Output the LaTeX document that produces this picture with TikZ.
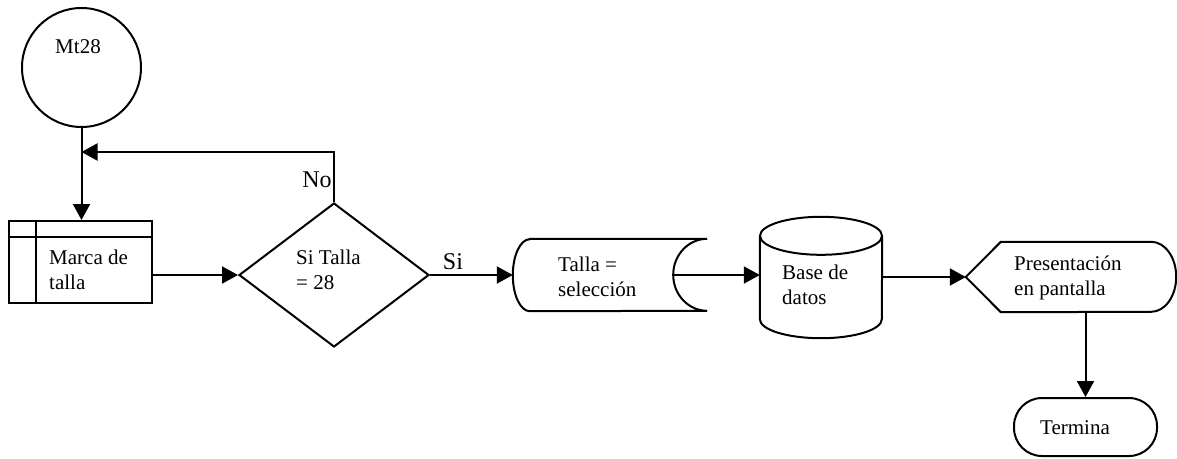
\documentclass[tikz,border=0pt]{standalone}
\usepackage{fontspec}
\setmainfont{Liberation Serif}
\usetikzlibrary{arrows.meta,shapes.geometric}

\tikzset{
  flow/.style={draw, line width=2pt},
  txt/.style={font=\fontsize{21}{24.5}\selectfont, align=left, inner sep=0pt},
  bigtxt/.style={font=\fontsize{24}{28}\selectfont, inner sep=0pt},
  arrow/.style={line width=2pt, -{Triangle[length=16pt,width=17pt]}},
}

\begin{document}
\begin{tikzpicture}[x=1pt, y=-1pt]
\useasboundingbox (0,0) rectangle (1177,458);

% Start connector
\node[flow, circle, minimum size=119pt, inner sep=0pt] (mt) at (81.5,67.5) {};
\node[txt] (mttxt) at (78,47) {Mt28};

% Predefined process
\node[flow, rectangle, minimum width=143pt, minimum height=82pt] (marca) at (80,262) {};
\draw[flow] ([yshift=-17pt]marca.north west) -- ([yshift=-17pt]marca.north east);
\draw[flow] ([xshift=28pt]marca.north west) -- ([xshift=28pt]marca.south west);
\node[txt, anchor=west] (marcatxt) at (49,270) {Marca de\\talla};

% Decision
\node[flow, diamond, minimum width=190pt, minimum height=144pt, inner sep=0pt] (dec) at (334,275) {};
\node[txt, anchor=west] (dectxt) at (296,270) {Si Talla\\= 28};
\node[bigtxt] (no) at (317,180) {No};
\node[bigtxt] (si) at (453,262) {Si};

% Stored data
\node[minimum width=194pt, minimum height=72pt, inner sep=0pt] (sel) at (610,275) {};
\coordinate (selout) at ([xshift=-34pt]sel.east);
\draw[flow] ([xshift=17pt]sel.north west) -- (sel.north east)
  arc[start angle=90, end angle=270, x radius=34pt, y radius=36pt]
  -- ([xshift=17pt]sel.south west)
  arc[start angle=270, end angle=90, x radius=17pt, y radius=36pt] -- cycle;
\node[txt, anchor=west] (seltxt) at (558,277) {Talla =\\selección};

% Database
\node[minimum width=122pt, minimum height=121pt, inner sep=0pt] (db) at (821,277.5) {};
\draw[flow] ([yshift=-19pt]db.north west) -- ([yshift=19pt]db.south west)
  arc[start angle=180, end angle=360, x radius=61pt, y radius=19pt]
  -- ([yshift=-19pt]db.north east);
\draw[flow] ([yshift=-19pt]db.north) ellipse[x radius=61pt, y radius=19pt];
\node[txt, anchor=west] (dbtxt) at (782,285) {Base de\\datos};

% Display
\node[minimum width=210pt, minimum height=70pt, inner sep=0pt] (disp) at (1071,277) {};
\draw[flow] (disp.west) -- ([xshift=35pt]disp.north west) -- ([xshift=-25pt]disp.north east)
  arc[start angle=90, end angle=-90, x radius=25pt, y radius=35pt]
  -- ([xshift=35pt]disp.south west) -- cycle;
\node[txt, anchor=west] (disptxt) at (1014,278) {Presentación\\en pantalla};

% Terminator
\node[flow, rectangle, rounded corners=28pt, minimum width=143pt, minimum height=58pt] (term) at (1085.5,427) {};
\node[txt] (termtxt) at (1075,428) {Termina};

% Connectors
\coordinate (loop) at (mt.south |- 0,152);
\draw[arrow] (mt.south) -- (mt.south |- marca.north);
\draw[arrow] (dec.north) |- (loop);
\draw[arrow] (marca.east |- dec.west) -- (dec.west);
\draw[arrow] (dec.east) -- (sel.west);
\draw[arrow] (selout) -- (selout -| db.west);
\draw[arrow] (db.east |- disp.west) -- (disp.west);
\draw[arrow] (term.north |- disp.south) -- (term.north);
\end{tikzpicture}
\end{document}
